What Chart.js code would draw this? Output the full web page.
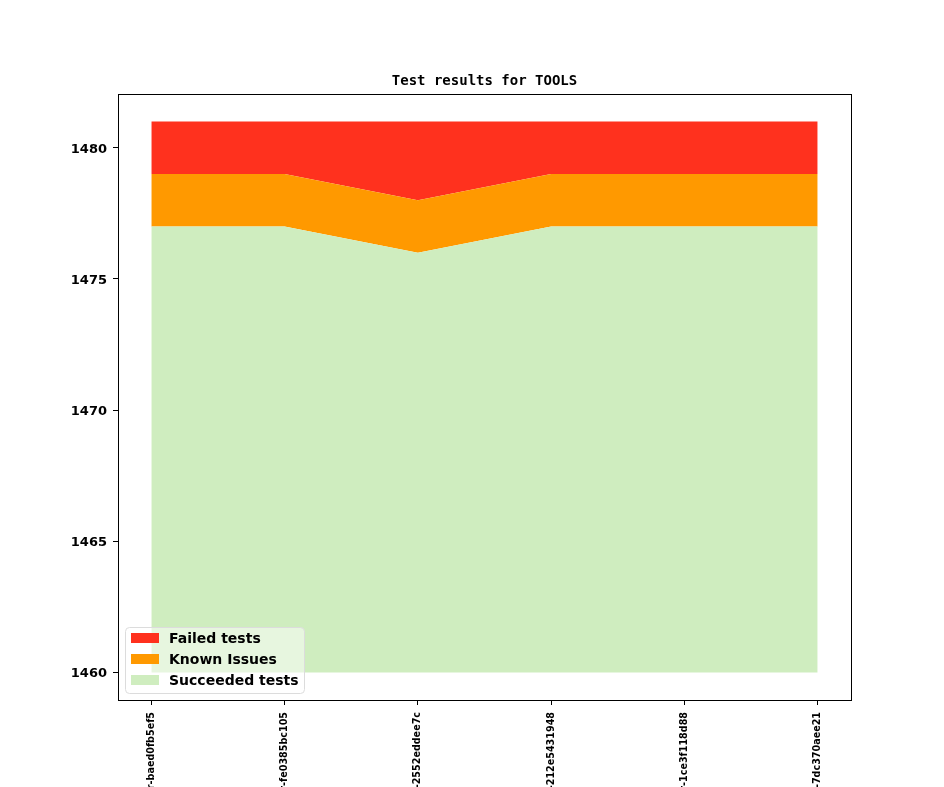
<!DOCTYPE html>
<html>
<head>
<meta charset="utf-8">
<script src="https://cdn.jsdelivr.net/npm/chart.js@4.4.0/dist/chart.umd.min.js"></script>
<style>
html, body { margin: 0; padding: 0; background: #fff; overflow: hidden; }
</style>
</head>
<body>
<canvas id="testResults" width="944" height="787"></canvas>
<script>
// revisions tested (start of each label is cut off at the bottom of the page)
var revisions = ["master-baed0fb5ef5", "master-fe0385bc105", "master-2552eddee7c", "master-212e5431948", "master-1ce3f118d88", "master-7dc370aee21"];
var succeeded = [1477, 1477, 1476, 1477, 1477, 1477];
var knownIssues = [2, 2, 2, 2, 2, 2];
var failed = [2, 2, 3, 2, 2, 2];
var baseLine = 1460;
var yTicks = [1460, 1465, 1470, 1475, 1480];
var yMin = 1458.95;
var yMax = 1482.05;
var title = "Test results for TOOLS";

function stackLine(parts) {
    var out = [];
    for (var i = 0; i < revisions.length; i++) {
        var total = 0;
        parts.forEach(p => { total += p[i]; });
        out.push({ x: i, y: total });
    }
    return out;
}

var extras = {
    id: 'extras',
    afterDraw: function(chart) {
        var ctx = chart.ctx;
        var a = chart.chartArea;
        ctx.save();
        // frame around the plot
        ctx.strokeStyle = '#000';
        ctx.lineWidth = 1;
        ctx.strokeRect(Math.round(a.left) + 0.5, Math.round(a.top) + 0.5, Math.round(a.right - a.left), Math.round(a.bottom - a.top));

        // title
        ctx.fillStyle = '#000';
        ctx.font = 'bold 14px "DejaVu Sans Mono"';
        ctx.textAlign = 'center';
        ctx.textBaseline = 'middle';
        ctx.fillText(title, (a.left + a.right) / 2, a.top - 13);

        // legend in the lower left corner
        var bx = a.left + 7, by = a.bottom - 73, bw = 179, bh = 66;
        ctx.beginPath();
        ctx.roundRect(bx + 0.5, by + 0.5, bw, bh, 4);
        ctx.fillStyle = 'rgba(255,255,255,0.5)';
        ctx.fill();
        ctx.strokeStyle = '#dcdcdc';
        ctx.stroke();
        var items = chart.data.datasets.slice().reverse();
        ctx.font = 'bold 14px "DejaVu Sans"';
        ctx.textAlign = 'left';
        items.forEach((ds, k) => {
            var cy = by + 11 + k * 21;
            ctx.fillStyle = ds.backgroundColor;
            ctx.fillRect(bx + 6, cy - 5, 28, 10);
            ctx.fillStyle = '#000';
            ctx.fillText(ds.label, bx + 44, cy + 1);
        });
        ctx.restore();
    }
};

var ctx = document.querySelector('#testResults').getContext('2d');
var myChart = new Chart(ctx, {
    type: 'line',
    data: {
        datasets: [
            {
                label: "Succeeded tests",
                data: stackLine([succeeded]),
                backgroundColor: '#cfedbf',
                borderWidth: 0,
                pointRadius: 0,
                fill: { value: baseLine }
            },
            {
                label: "Known Issues",
                data: stackLine([succeeded, knownIssues]),
                backgroundColor: '#ff9900',
                borderWidth: 0,
                pointRadius: 0,
                fill: '-1'
            },
            {
                label: "Failed tests",
                data: stackLine([succeeded, knownIssues, failed]),
                backgroundColor: '#ff311e',
                borderWidth: 0,
                pointRadius: 0,
                fill: '-1'
            }
        ]
    },
    options: {
        responsive: false,
        animation: false,
        devicePixelRatio: 1,
        layout: {
            padding: { top: 94, right: 93, bottom: 0, left: 0 }
        },
        plugins: {
            legend: { display: false },
            title: { display: false },
            tooltip: { enabled: false }
        },
        scales: {
            x: {
                type: 'linear',
                min: -0.25,
                max: 5.25,
                afterFit: function(scale) { scale.height = 87; },
                afterBuildTicks: function(scale) {
                    scale.ticks = revisions.map((r, i) => ({ value: i }));
                },
                border: { display: false },
                grid: { drawOnChartArea: false, drawTicks: true, tickLength: 5, color: '#000' },
                ticks: {
                    autoSkip: false,
                    minRotation: 90,
                    maxRotation: 90,
                    padding: 7,
                    color: '#000',
                    font: { family: 'DejaVu Sans', size: 9.6, weight: 'bold' },
                    callback: function(v) { return revisions[v]; }
                }
            },
            y: {
                min: yMin,
                max: yMax,
                afterFit: function(scale) { scale.width = 118; },
                afterBuildTicks: function(scale) {
                    scale.ticks = yTicks.map(v => ({ value: v }));
                },
                border: { display: false },
                grid: { drawOnChartArea: false, drawTicks: true, tickLength: 5, color: '#000' },
                ticks: {
                    padding: 6,
                    labelOffset: 1.5,
                    color: '#000',
                    font: { family: 'DejaVu Sans', size: 13, weight: 'bold' },
                    callback: function(v) { return String(v); }
                }
            }
        }
    },
    plugins: [extras]
});
</script>
</body>
</html>
